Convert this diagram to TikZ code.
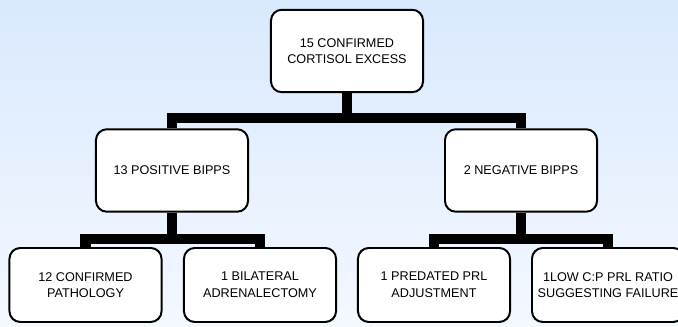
\documentclass[tikz,border=0pt]{standalone}
\usepackage{fontspec}
\setmainfont{Liberation Sans}
\usepackage{tikz}
\definecolor{bgtop}{RGB}{217,233,253}
\definecolor{bgbot}{RGB}{244,248,255}
\tikzstyle{box} = [draw=black, fill=white, rounded corners=0.27cm, line width=1.4pt, align=center, minimum width=3.8cm, font={\fontsize{9}{11.8}\selectfont}, inner sep=0pt]
\tikzstyle{upper} = [box, minimum height=2.06cm]
\tikzstyle{lower} = [box, minimum height=1.85cm]
\tikzstyle{bar} = [draw=black, line width=7.8pt, line join=miter]

\begin{document}
\begin{tikzpicture}[x=0.025cm,y=0.025cm]
  \shade[top color=bgtop, bottom color=bgbot] (0,0) rectangle (678,327);
  \useasboundingbox (0,0) rectangle (678,327);
  \node[upper](top) at (347,276){15 CONFIRMED\\CORTISOL EXCESS};
  \node[upper](pos) at (172,156.5){13 POSITIVE BIPPS};
  \node[upper](neg) at (521,156.5){2 NEGATIVE BIPPS};
  \node[lower](path) at (85.5,42){12 CONFIRMED\\PATHOLOGY};
  \node[lower](adx) at (260,42){1 BILATERAL\\ADRENALECTOMY};
  \node[lower](prl) at (434,42){1 PREDATED PRL\\ADJUSTMENT};
  \node[lower](low) at (608,42){1LOW C:P PRL RATIO\\SUGGESTING FAILURE};
  \coordinate (j1) at (347,209);
  \coordinate (j2) at (172,88);
  \coordinate (j3) at (521,88);
  \draw[bar](top)--(j1);
  \draw[bar](pos.north)|-(j1)-|(neg.north);
  \draw[bar](pos)--(j2);
  \draw[bar](path.north)|-(j2)-|(adx.north);
  \draw[bar](neg)--(j3);
  \draw[bar](prl.north)|-(j3)-|(low.north);
\end{tikzpicture}
\end{document}
